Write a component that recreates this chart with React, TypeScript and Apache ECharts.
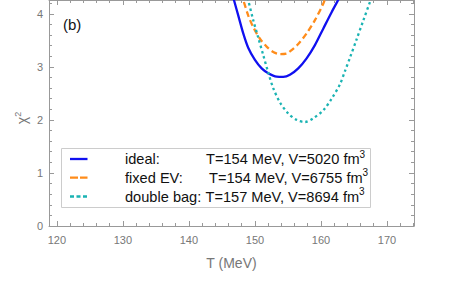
import React, { useEffect, useRef } from "react";
import * as echarts from "echarts";

const idealT = [146.5, 146.82, 147.47, 148.23, 148.98, 150.0, 151.02, 152.02, 153.29, 154.29, 155.3, 156.56, 157.83, 159.09, 160.35, 161.62, 162.62, 163.2];
const idealChi2 = [4.40, 4.26, 3.97, 3.63, 3.36, 3.13, 2.97, 2.88, 2.815, 2.81, 2.85, 2.97, 3.16, 3.41, 3.72, 4.03, 4.26, 4.39];

const fixedT = [147.9, 148.23, 148.98, 149.74, 150.76, 151.77, 152.77, 153.79, 154.8, 155.3, 156.56, 157.83, 159.09, 160.35, 160.9];
const fixedChi2 = [4.39, 4.26, 3.97, 3.75, 3.53, 3.38, 3.28, 3.24, 3.25, 3.29, 3.43, 3.63, 3.88, 4.19, 4.37];

const doubleT = [148.7, 148.98, 149.74, 150.5, 151.26, 152.02, 152.77, 153.79, 155.05, 156.32, 157.58, 158.83, 160.35, 161.62, 162.88, 163.64, 164.39, 165.41, 166.41, 167.53, 167.8];
const doubleChi2 = [4.40, 4.26, 3.88, 3.55, 3.22, 2.89, 2.60, 2.33, 2.12, 2.0, 1.96, 2.03, 2.18, 2.40, 2.67, 2.92, 3.17, 3.52, 3.87, 4.26, 4.37];

const legendNames = ["ideal:", "fixed EV:", "double bag:"];
const legendValues = ["T=154 MeV, V=5020 fm", "T=154 MeV, V=6755 fm", "T=157 MeV, V=8694 fm"];
const colors = ["#1010f0", "#ff8c1a", "#1ab3b3"];

const zip = (a: number[], b: number[]) => a.map((v, i) => [v, b[i]]);

export default function App() {
  const ref = useRef<HTMLDivElement>(null);
  useEffect(() => {
    const chart = echarts.init(ref.current!, undefined, { renderer: "svg" });
    const font = "Liberation Sans, Arial, sans-serif";
    const axisColor = "#999";
    const labelColor = "#777";
    const gridL = 49, gridR = 36, gridT = 0, gridB = 55;
    const baseAxis = {
      axisLine: { show: true, onZero: false, lineStyle: { color: axisColor, width: 1 } },
      axisTick: { show: true, inside: true, length: 5, lineStyle: { color: axisColor } },
      minorTick: { show: true, splitNumber: 5, length: 3, lineStyle: { color: axisColor } },
      splitLine: { show: false },
    };
    const legendX = [70, 87.5];
    const legendY = [159, 177.7, 196.5];
    const nameX = 125;
    const valX = [206, 209, 205.5];
    const graphic: any[] = [
      { type: "rect", shape: { x: 61.5, y: 148.5, width: 309, height: 59 }, style: { fill: "#fff", stroke: "#ccc", lineWidth: 1 }, z: 10 },
      { type: "text", x: 63, y: 24, style: { text: "(b)", font: `15px ${font}`, fill: "#111", verticalAlign: "middle" }, z: 10 },
      { type: "text", x: 231.5, y: 263, style: { text: "T (MeV)", font: `14px ${font}`, fill: labelColor, align: "center", verticalAlign: "middle" }, z: 10 },
      {
        type: "text", x: 22, y: 118, rotation: Math.PI / 2,
        style: { text: "χ{s|2}", font: `14px ${font}`, fill: labelColor, align: "center", verticalAlign: "middle", rich: { s: { fontSize: 9, fill: labelColor, verticalAlign: "top", padding: [0, 0, 8, 0] } } },
        z: 10,
      },
    ];
    const dashes: any[] = ["solid", [8, 2], [4, 2.5]];
    legendNames.forEach((n, i) => {
      graphic.push({ type: "line", shape: { x1: legendX[0], y1: legendY[i], x2: legendX[1], y2: legendY[i] }, style: { stroke: colors[i], lineWidth: 2.3, lineDash: dashes[i] === "solid" ? null : dashes[i] }, z: 11 });
      graphic.push({ type: "text", x: nameX, y: legendY[i], style: { text: n, font: `14.6px ${font}`, fill: "#111", verticalAlign: "middle" }, z: 11 });
      graphic.push({
        type: "text", x: valX[i], y: legendY[i],
        style: { text: legendValues[i] + "{s|3}", font: `14.6px ${font}`, fill: "#111", verticalAlign: "middle", rich: { s: { fontSize: 10, fill: "#111", verticalAlign: "top", padding: [0, 0, 10, 0] } } },
        z: 11,
      });
    });
    const mk = (name: string, d: number[][], color: string, type: any) => ({
      type: "line", name, data: d, smooth: 0.3, showSymbol: false, symbol: "none", clip: true,
      lineStyle: { color, width: 2.3, type },
      z: 3,
    });
    const xLabel = (v: number) => (Math.abs(v % 10) < 1e-6 ? String(v) : "");
    chart.setOption({
      animation: false,
      grid: { left: gridL, right: gridR, top: gridT, bottom: gridB },
      xAxis: [
        { type: "value", min: 118.8, max: 174.1, splitNumber: 5, position: "bottom", ...baseAxis,
          axisLabel: { show: true, color: labelColor, fontSize: 11, fontFamily: font, margin: 8, formatter: xLabel } },
        { type: "value", min: 118.8, max: 174.1, splitNumber: 5, position: "top", ...baseAxis, axisLabel: { show: false } },
      ],
      yAxis: [
        { type: "value", min: 0, max: 4.26, interval: 1, position: "left", ...baseAxis,
          axisLabel: { show: true, color: labelColor, fontSize: 11, fontFamily: font, margin: 6,
            formatter: (v: number) => (Math.abs(v % 1) < 1e-6 ? String(v) : "") } },
        { type: "value", min: 0, max: 4.26, interval: 1, position: "right", ...baseAxis, axisLabel: { show: false } },
      ],
      series: [
        mk("ideal", zip(idealT, idealChi2), colors[0], "solid"),
        mk("fixed EV", zip(fixedT, fixedChi2), colors[1], [6, 3.5]),
        mk("double bag", zip(doubleT, doubleChi2), colors[2], [2.5, 3]),
      ],
      graphic,
    });
    return () => chart.dispose();
  }, []);
  return <div ref={ref} style={{ position: "fixed", left: 0, top: 0, width: 450, height: 281, background: "#fff" }} />;
}
